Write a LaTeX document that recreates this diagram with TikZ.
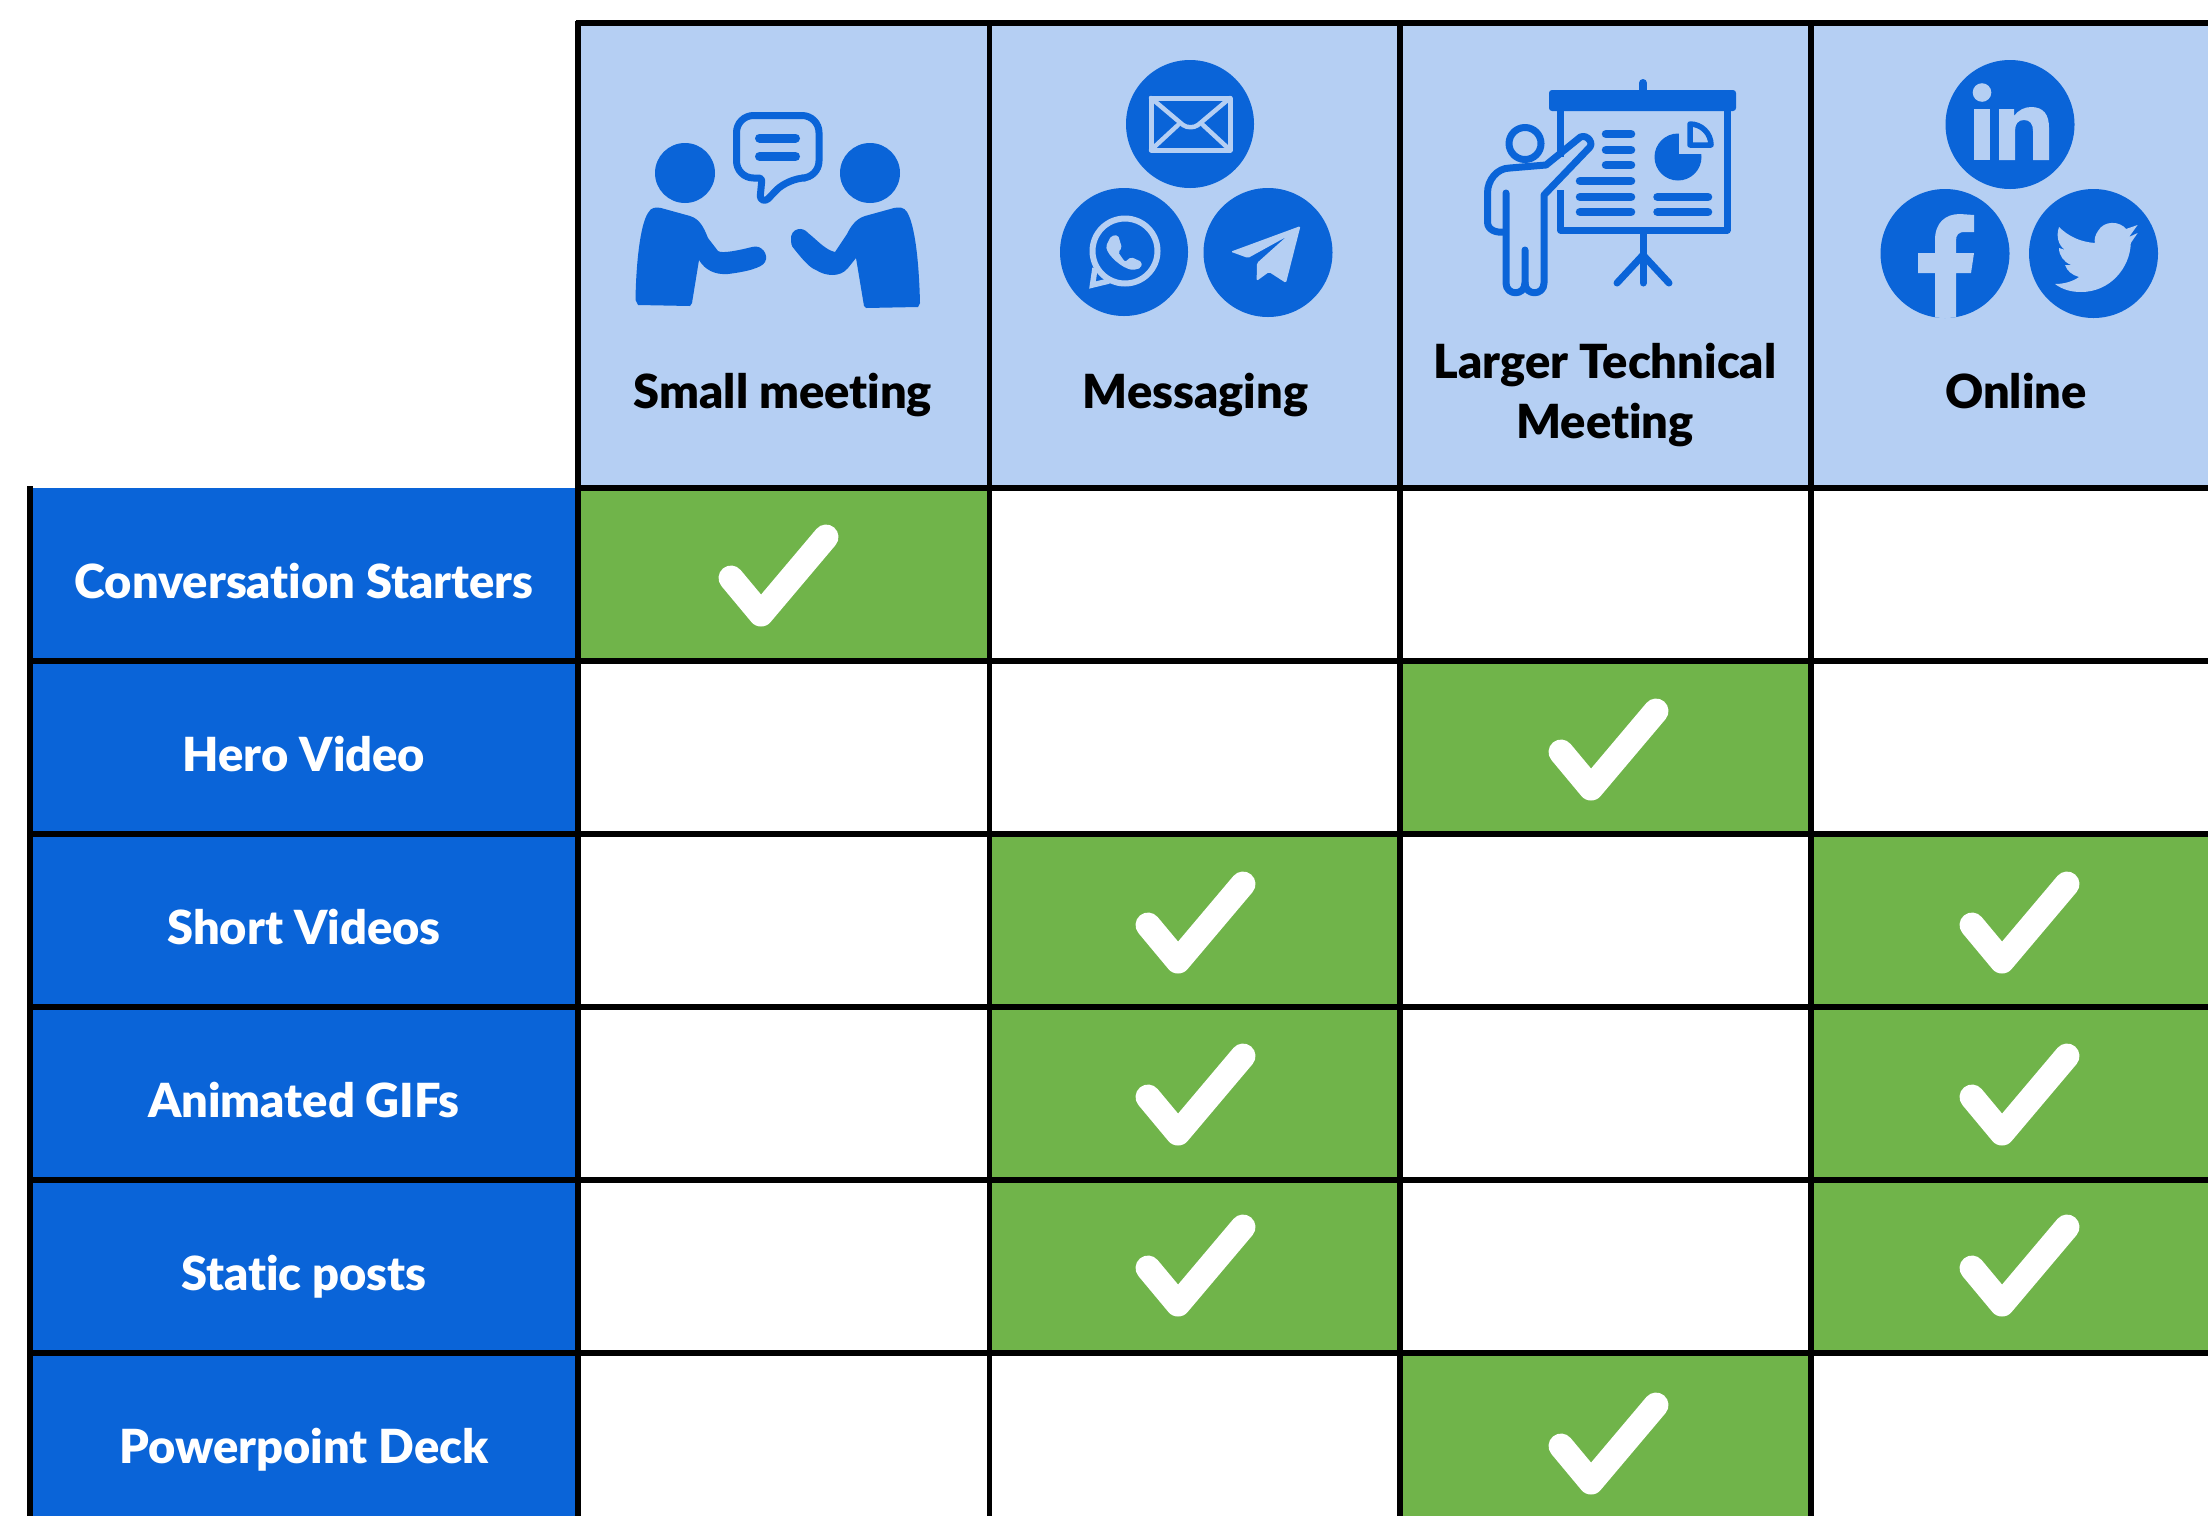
\documentclass[tikz,border=0pt]{standalone}
\usepackage{fontspec}
\setmainfont{Lato}[BoldFont=Lato Black,Ligatures=NoCommon]
\definecolor{blueA}{HTML}{0A64D8}
\definecolor{headA}{HTML}{B5CFF3}
\definecolor{greenA}{HTML}{70B44A}
\tikzset{
 gridline/.style={line width=5.2pt,draw=black},
 rowlabel/.style={anchor=base,text=white,font=\bfseries\fontsize{47}{47}\selectfont,inner sep=0},
 headlabel/.style={anchor=base,text=black,font=\bfseries\fontsize{47}{47}\selectfont,inner sep=0},
 tick/.style={draw=white,line width=25pt,line cap=round,line join=round},
 bluestroke/.style={draw=blueA,line cap=round,line join=round},
 lightstroke/.style={draw=headA,line cap=round,line join=round},
}
\begin{document}
\begin{tikzpicture}[x=1pt,y=-1pt]
\useasboundingbox (0,0) rectangle (2208,1516);
\fill[white] (0,0) rectangle (2208,1516);
% cell fills
\fill[headA] (578,23) rectangle (2208,488);
\fill[blueA] (30,488) rectangle (578,1516);
\fill[greenA] (578,488) rectangle (989.5,661);
\fill[greenA] (1400,661) rectangle (1811,834);
\fill[greenA] (989.5,834) rectangle (1400,1353);
\fill[greenA] (1811,834) rectangle (2208,1353);
\fill[greenA] (1400,1353) rectangle (1811,1516);
% grid
\foreach \yy in {661,834,1007,1180,1353} \draw[gridline] (30,\yy) -- (2208,\yy);
\draw[gridline] (576,488) -- (2208,488);
\draw[gridline] (576,23) -- (2208,23);
\draw[gridline] (30,486) -- (30,1516);
\foreach \xx in {578,989.5,1400,1811} \draw[gridline] (\xx,21) -- (\xx,1516);
% ticks
\foreach \xx/\yy in {577/488,1407/662,994/835,1818/835,994/1007,1818/1007,994/1178,1818/1178,1407/1356}
 \draw[tick] (\xx+154,\yy+90) -- (\xx+184,\yy+126) -- (\xx+249,\yy+49);
% row labels
\node[rowlabel] (r1) at (304,598) {Conversation Starters};
\node[rowlabel] (r2) at (304,771) {Hero Video};
\node[rowlabel] (r3) at (304,944) {Short Videos};
\node[rowlabel] (r4) at (304,1117) {Animated GIFs};
\node[rowlabel] (r5) at (304,1290) {Static posts};
\node[rowlabel] (r6) at (304,1463) {Powerpoint Deck};
% header labels
\node[headlabel] (h1) at (783,408) {Small meeting};
\node[headlabel] (h2) at (1195.5,408) {Messaging};
\node[headlabel] (h3a) at (1605,378) {Larger Technical};
\node[headlabel] (h3b) at (1605,438) {Meeting};
\node[headlabel] (h4) at (2016,408) {Online};
% --- small meeting icon
\fill[blueA] (685,173) circle (30);
\fill[blueA] (870,173) circle (30);
\fill[blueA] (635.5,300) .. controls (636,265) and (640,225) .. (648,213) .. controls (651,207) and (656,207) .. (661,208) -- (690,216) .. controls (700,219) and (704,228) .. (708,238) -- (718,251) .. controls (722,254) and (740,250) .. (752,247) .. controls (762,244) and (769,255) .. (765,262) .. controls (762,268) and (745,272) .. (728,274) .. controls (715,275) and (705,270) .. (699,260) -- (692,303) -- (690,306) -- (638,305) -- cycle;
\fill[blueA] (920,303) .. controls (919,262) and (915,225) .. (907,212) .. controls (904,207) and (899,207) .. (894,208) -- (865,216) .. controls (855,219) and (850,228) .. (847,234) -- (835,252) .. controls (825,250) and (815,238) .. (808,233) .. controls (803,226) and (790,228) .. (791,240) .. controls (791,246) and (793,248) .. (795,250) .. controls (803,260) and (810,268) .. (816,270) .. controls (825,276) and (840,278) .. (848,268) -- (856,258) -- (864,306) -- (866,308) -- (918,307) -- cycle;
\draw[bluestroke,line width=7pt,rounded corners=17] (762,178) -- (736.5,178) -- (736.5,115.5) -- (819,115.5) -- (819,178) -- (788,178) [rounded corners=3] -- (766,201) -- (760,199) -- cycle;
\draw[bluestroke,line width=9pt] (759.5,138) -- (795.5,138);
\draw[bluestroke,line width=9pt] (759.5,156.5) -- (795.5,156.5);
% --- messaging icons
\fill[blueA] (1190,124) circle (64);
\fill[blueA] (1124,252) circle (64);
\fill[blueA] (1268,252.5) circle (64.5);
\draw[lightstroke,line width=5pt] (1151,98) rectangle (1230,150);
\draw[lightstroke,line width=4.5pt] (1151,98) -- (1183,125) .. controls (1187,128) and (1194,128) .. (1198,125) -- (1230,98);
\draw[lightstroke,line width=4.5pt] (1151,150) -- (1178,125);
\draw[lightstroke,line width=4.5pt] (1230,150) -- (1203,125);
\draw[lightstroke,line width=6pt] (1125,251) circle (32.5);
\draw[draw=headA,line width=5.5pt,line join=miter] (1095,268) -- (1092.5,285) -- (1109,281);
\fill[headA,rounded corners=2] (1111,236) -- (1118,235) -- (1122,248) -- (1118,252) -- (1125,262) -- (1131,257) -- (1142,262) -- (1141,268) -- (1133,270) .. controls (1122,268) and (1108,256) .. (1106,246) -- cycle;
\fill[headA,rounded corners=1.5] (1300.5,226) -- (1230.7,251.7) -- (1248,258) -- (1286,237) -- (1257,263) -- (1256.6,281) -- (1269,272) -- (1286,283) -- cycle;
% --- presentation icon
\fill[blueA,rounded corners=3] (1549,90) rectangle (1736,111);
\draw[bluestroke,line width=8pt] (1643,83) -- (1643,92);
\draw[bluestroke,line width=7pt,line cap=butt] (1560.5,108) -- (1560.5,157);
\draw[bluestroke,line width=7pt,line cap=butt] (1560.5,190) -- (1560.5,230) -- (1727,230) -- (1727,108);
\foreach \yy in {134,150,165} \draw[bluestroke,line width=8.5pt] (1606,\yy) -- (1631,\yy);
\foreach \yy in {181,197,212} \draw[bluestroke,line width=8.5pt] (1580,\yy) -- (1631,\yy);
\foreach \yy in {197,212} \draw[bluestroke,line width=8.5pt] (1657.5,\yy) -- (1708,\yy);
\fill[blueA] (1678,157) circle (23.5);
\fill[headA] (1679,130) rectangle (1706,154);
\draw[bluestroke,line width=5.5pt] (1690,124) .. controls (1701.6,124) and (1711,133.4) .. (1711,145) -- (1690,145) -- cycle;
\draw[bluestroke,line width=7pt] (1525,143.5) circle (16);
\draw[bluestroke,line width=7pt] (1506,193) -- (1506,283) .. controls (1506,296) and (1525,296) .. (1525,283) -- (1525,250);
\draw[bluestroke,line width=7pt] (1525,283) .. controls (1525,296) and (1544,296) .. (1544,283) -- (1544,195) -- (1590,147) .. controls (1594,141) and (1584,132) .. (1578,139) -- (1546,165) -- (1510,168) .. controls (1497,168) and (1487.5,180) .. (1487.5,193) -- (1487.5,222) .. controls (1487.5,230) and (1496,233) .. (1504,232);
\draw[bluestroke,line width=7pt] (1643,232) -- (1643,283);
\draw[bluestroke,line width=7pt] (1643,255) -- (1617,283);
\draw[bluestroke,line width=7pt] (1643,255) -- (1669,283);
% --- online icons
\fill[blueA] (2010,124.5) circle (64.5);
\fill[blueA] (1945,253.5) circle (64.5);
\fill[blueA] (2093.5,253.5) circle (64.5);
\fill[headA] (1982,92.5) circle (9.3);
\fill[headA] (1974,109) rectangle (1990,160);
\fill[headA] (1999,109) -- (2014,109) -- (2014,116) .. controls (2018,110) and (2025,107) .. (2031,107) .. controls (2044,107) and (2049,115) .. (2049,128) -- (2049,160) -- (2033,160) -- (2033,131) .. controls (2033,124) and (2030,120) .. (2024,120) .. controls (2018,120) and (2015,124) .. (2015,131) -- (2015,160) -- (1999,160) -- cycle;
\begin{scope}
\clip (1945,253.5) circle (64.5);
\fill[headA] (1935,325) -- (1935,273) -- (1918,273) -- (1918,253) -- (1935,253) -- (1935,240) .. controls (1935,223) and (1945,214) .. (1960,214) -- (1974,215) -- (1974,232) -- (1965,232) .. controls (1958,232) and (1956,235) .. (1956,241) -- (1956,253) -- (1974,253) -- (1971,273) -- (1956,273) -- (1956,325) -- cycle;
\end{scope}
\fill[headA] (2137.6,225) -- (2126,229) .. controls (2120,221) and (2104,220) .. (2098,231) .. controls (2095,235) and (2094,240) .. (2095,243) .. controls (2080,242) and (2068,236) .. (2059,227) .. controls (2056,236) and (2058,245) .. (2065,250) -- (2059,248) .. controls (2059,256) and (2064,262) .. (2071,265) -- (2065,265) .. controls (2067,271) and (2072,275) .. (2079,277) .. controls (2072,282) and (2063,284) .. (2055,284) .. controls (2063,290) and (2072,292) .. (2081,292) .. controls (2110,292) and (2130,268) .. (2130.8,243) -- (2137.6,233) -- (2129,237) -- cycle;
\end{tikzpicture}
\end{document}
